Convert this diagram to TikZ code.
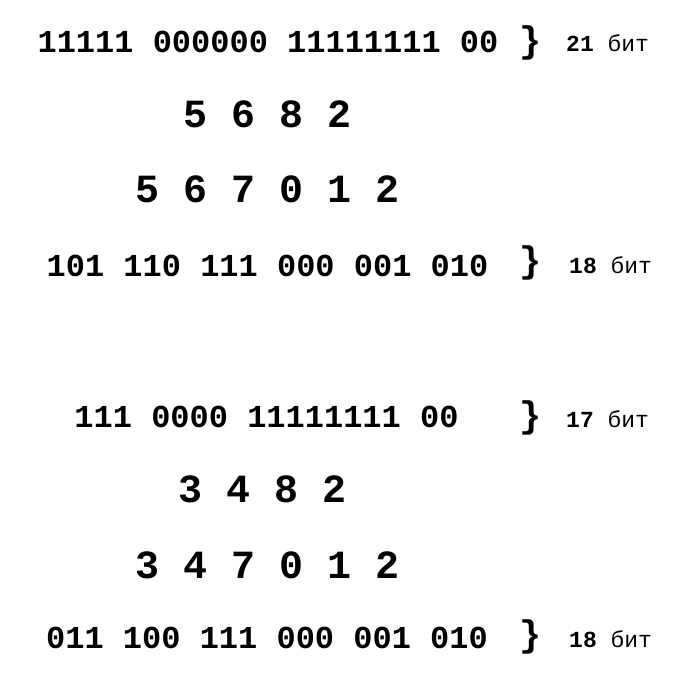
\documentclass[tikz,border=0pt]{standalone}
\usepackage{fontspec}
\setmonofont{Liberation Mono}
\newfontfamily\mono{Liberation Mono}
\begin{document}
\begin{tikzpicture}[x=1pt,y=-1pt,
  bits/.style={anchor=base,inner sep=0pt,font=\mono\bfseries\fontsize{32}{38}\selectfont},
  digs/.style={anchor=base,inner sep=0pt,font=\mono\bfseries\fontsize{40}{48}\selectfont},
  brace/.style={anchor=center,inner sep=0pt,font=\mono\bfseries\fontsize{37}{44}\selectfont},
  lbl/.style={anchor=base west,inner sep=0pt,font=\mono\fontsize{23}{28}\selectfont}]
\useasboundingbox (0,0) rectangle (700,700);
\fill[white] (0,0) rectangle (700,700);
% top block
\node[bits] (l1) at (268,53) {11111 000000 11111111 00};
\node[brace] (b1) at (531,43) {\}};
\node[lbl] (t1) at (566,52) {\textbf{21} бит};
\node[digs] (l2) at (267.5,128) {5 6 8 2};
\node[digs] (l3) at (267.5,203) {5 6 7 0 1 2};
\node[bits] (l4) at (267.5,276) {101 110 111 000 001 010};
\node[brace] (b4) at (531,263) {\}};
\node[lbl] (t4) at (569,273) {\textbf{18} бит};
% bottom block
\node[bits] (l5) at (266.5,427) {111 0000 11111111 00};
\node[brace] (b5) at (531,418) {\}};
\node[lbl] (t5) at (566,427) {\textbf{17} бит};
\node[digs] (l6) at (263,502) {3 4 8 2};
\node[digs] (l7) at (267.5,578) {3 4 7 0 1 2};
\node[bits] (l8) at (267,648) {011 100 111 000 001 010};
\node[brace] (b8) at (531,637) {\}};
\node[lbl] (t8) at (569,647) {\textbf{18} бит};
\end{tikzpicture}
\end{document}
